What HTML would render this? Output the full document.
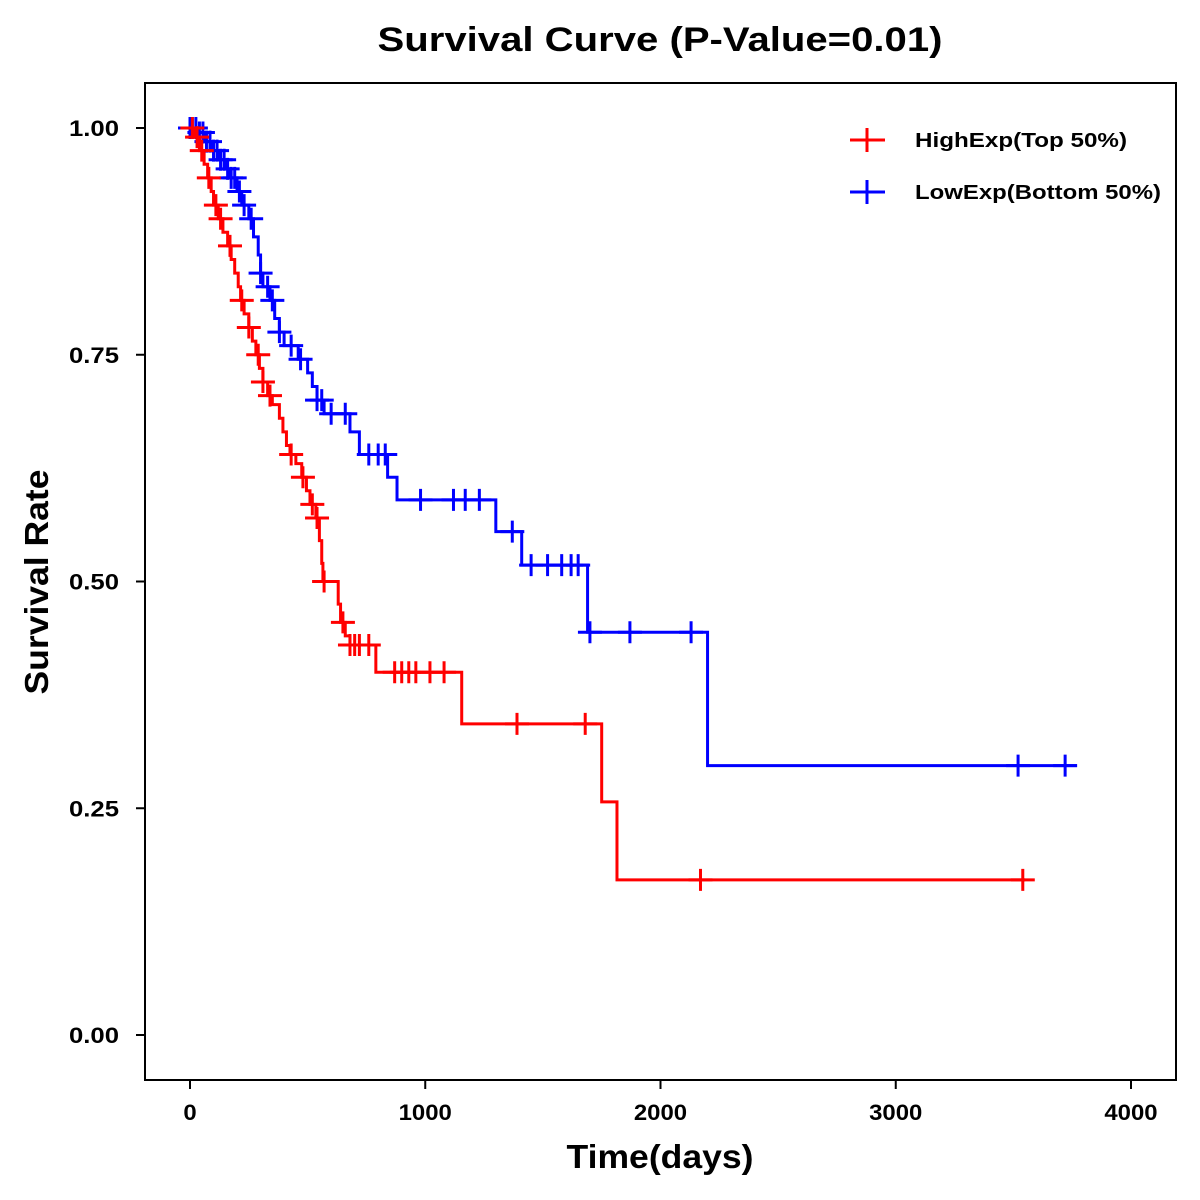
<!DOCTYPE html>
<html><head><meta charset="utf-8"><style>
body{margin:0;background:#fff}
svg{display:block;font-family:"Liberation Sans",Arial,sans-serif;font-weight:bold}
</style></head><body>
<svg id="chart" width="1200" height="1200" viewBox="0 0 1200 1200">
<text x="660" y="51" text-anchor="middle" font-size="34" textLength="565" lengthAdjust="spacingAndGlyphs">Survival Curve (P-Value=0.01)</text>
<rect x="145" y="83" width="1031" height="997" fill="none" stroke="#000" stroke-width="2"/>
<g id="axes"></g>
<g id="series"></g>
<text x="660" y="1168" text-anchor="middle" font-size="33" textLength="187" lengthAdjust="spacingAndGlyphs">Time(days)</text>
<text transform="translate(48,582) rotate(-90)" text-anchor="middle" font-size="33" textLength="225" lengthAdjust="spacingAndGlyphs">Survival Rate</text>
<g>
<g>
<line x1="850" y1="140" x2="885" y2="140" stroke="#f00" stroke-width="3"/><line x1="867" y1="128" x2="867" y2="152" stroke="#f00" stroke-width="3"/>
<text x="915" y="147" font-size="20" textLength="212" lengthAdjust="spacingAndGlyphs">HighExp(Top 50%)</text></g>
<g>
<line x1="850" y1="192" x2="885" y2="192" stroke="#00f" stroke-width="3"/><line x1="867" y1="180" x2="867" y2="204" stroke="#00f" stroke-width="3"/>
<text x="915" y="199" font-size="20" textLength="246" lengthAdjust="spacingAndGlyphs">LowExp(Bottom 50%)</text></g>
</g>
</svg>
<script>
const xTicks=[0,1000,2000,3000,4000];
const yTicks=[0,0.25,0.5,0.75,1.0];
const yTickLabels=["0.00","0.25","0.50","0.75","1.00"];
const highTimes=[0,20,40,60,75,90,100,120,140,160,175,190,205,215,230,250,265,280,295,310,330,350,380,395,410,425,450,475,495,510,535,550,560,565,630,640,660,680,790,1155,1750,1815];
const highSurv=[1.0,0.99,0.975,0.96,0.945,0.93,0.915,0.9,0.885,0.87,0.855,0.84,0.825,0.81,0.795,0.78,0.765,0.75,0.735,0.72,0.705,0.695,0.68,0.665,0.65,0.64,0.63,0.615,0.6,0.585,0.57,0.545,0.52,0.5,0.475,0.455,0.44,0.43,0.4,0.343,0.257,0.171];
const highEnd=3550;
const highCensor=[10,30,50,80,110,130,170,220,250,290,310,340,430,480,520,540,570,650,680,700,720,760,870,900,930,960,1020,1080,1390,1680,2170,3540];
const lowTimes=[0,30,60,90,120,150,170,200,220,250,270,290,300,310,340,360,380,400,460,500,520,540,570,680,720,840,880,1300,1410,1690,2200];
const lowSurv=[1.0,0.995,0.985,0.975,0.965,0.955,0.945,0.93,0.915,0.9,0.88,0.86,0.84,0.825,0.81,0.79,0.775,0.76,0.745,0.73,0.715,0.7,0.685,0.665,0.64,0.615,0.59,0.555,0.518,0.444,0.297];
const lowEnd=3770;
const lowCensor=[0,10,25,40,55,70,85,100,115,130,145,160,175,190,210,230,260,300,330,350,380,430,470,540,560,600,660,760,800,830,980,1120,1170,1230,1370,1450,1520,1580,1620,1650,1700,1870,2130,3520,3720];

const X=t=>190+t*0.23525;
const Y=s=>1035-s*907;
const NS="http://www.w3.org/2000/svg";
const ax=document.getElementById('axes');
function mk(tag,attrs,parent){const e=document.createElementNS(NS,tag);for(const k in attrs)e.setAttribute(k,attrs[k]);parent.appendChild(e);return e;}
xTicks.forEach(t=>{
  const g=mk('g',{},ax);
  
  
  mk('line',{x1:X(t),x2:X(t),y1:1080,y2:1089,stroke:'#000','stroke-width':2},g);
  const s=String(t);
  const tx=mk('text',{x:X(t),y:1120,'text-anchor':'middle','font-size':22,textLength:s.length*13.3,lengthAdjust:'spacingAndGlyphs'},g);tx.textContent=s;
});
yTicks.forEach((v,i)=>{
  const g=mk('g',{},ax);
  
  
  mk('line',{x1:136,x2:145,y1:Y(v),y2:Y(v),stroke:'#000','stroke-width':2},g);
  const tx=mk('text',{x:119,y:Y(v)+8,'text-anchor':'end','font-size':22,textLength:50,lengthAdjust:'spacingAndGlyphs'},g);tx.textContent=yTickLabels[i];
});
const sg=document.getElementById('series');
function surv(times,svs,t){let s=svs[0];for(let i=0;i<times.length;i++){if(times[i]<=t)s=svs[i];}return s;}
function draw(times,svs,end,cens,color,name){
  const g=mk('g',{},sg);
  
  
  let d='M'+X(times[0])+','+Y(svs[0]);
  for(let i=1;i<times.length;i++){d+=' H'+X(times[i])+' V'+Y(svs[i]);}
  d+=' H'+X(end);
  const p=mk('path',{d:d,fill:'none',stroke:color,'stroke-width':3},g);
  
  
  cens.forEach(t=>{
    const x=X(t),y=Y(surv(times,svs,t));
    const m=mk('path',{d:`M${x-12},${y}H${x+12}M${x},${y-11}V${y+11}`,stroke:color,'stroke-width':3},g);
    
    
  });
}
draw(lowTimes,lowSurv,lowEnd,lowCensor,'#00f','low-exp-series');
draw(highTimes,highSurv,highEnd,highCensor,'#f00','high-exp-series');
</script>
</body></html>
